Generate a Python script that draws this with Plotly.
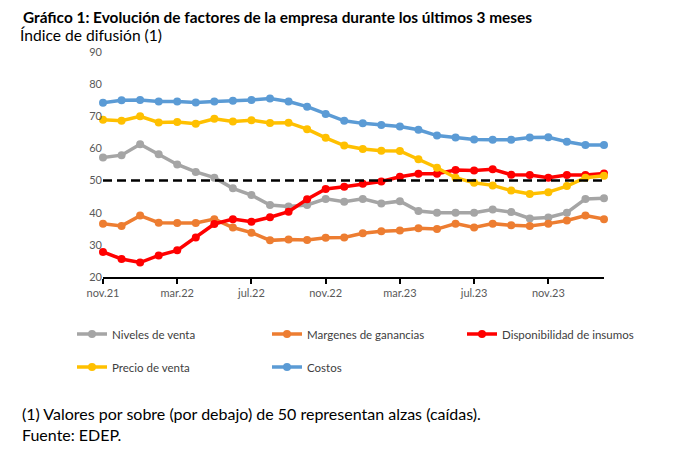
import plotly.graph_objects as go

# meses (nov.21 - feb.24)
meses = ["nov.21", "dic.21", "ene.22", "feb.22", "mar.22", "abr.22", "may.22", "jun.22",
         "jul.22", "ago.22", "sep.22", "oct.22", "nov.22", "dic.22", "ene.23", "feb.23",
         "mar.23", "abr.23", "may.23", "jun.23", "jul.23", "ago.23", "sep.23", "oct.23",
         "nov.23", "dic.23", "ene.24", "feb.24"]

niveles_venta = [57.2, 57.9, 61.3, 58.2, 55.0, 52.7, 50.9, 47.6, 45.5, 42.4, 41.9, 42.4, 44.3, 43.4,
                 44.3, 42.9, 43.6, 40.5, 40.0, 40.0, 40.0, 41.0, 40.2, 38.2, 38.5, 40.0, 44.3, 44.5]
margenes = [36.6, 35.9, 39.1, 36.9, 36.8, 36.8, 38.0, 35.4, 33.8, 31.4, 31.7, 31.5, 32.2, 32.3,
            33.6, 34.2, 34.5, 35.2, 34.9, 36.6, 35.4, 36.6, 36.1, 35.9, 36.6, 37.6, 39.1, 38.0]
insumos = [27.8, 25.6, 24.5, 26.7, 28.3, 32.3, 36.5, 38.0, 37.2, 38.6, 40.3, 44.2, 47.4, 48.1,
           49.0, 49.7, 51.2, 52.1, 52.1, 53.3, 53.1, 53.5, 51.8, 51.7, 50.9, 51.7, 51.7, 52.2]
precio_venta = [68.9, 68.6, 70.0, 68.1, 68.2, 67.7, 69.2, 68.4, 68.8, 67.9, 68.0, 66.0, 63.3, 60.9,
                59.8, 59.3, 59.2, 56.6, 54.0, 50.9, 49.3, 48.5, 46.9, 45.8, 46.4, 48.3, 50.9, 51.5]
costos = [74.2, 75.0, 75.1, 74.6, 74.6, 74.3, 74.6, 74.8, 75.1, 75.5, 74.6, 73.0, 70.7, 68.6,
          67.8, 67.3, 66.8, 65.8, 64.0, 63.4, 62.8, 62.7, 62.7, 63.4, 63.5, 62.1, 61.1, 61.1]
umbral = [50] * len(meses)

FONT = "Lato"
W, H = 675, 454
OFF = 8  # margen del body de la pagina html
# bordes del area de grafico en pixeles de pantalla
X0, X1, Y0, Y1 = 103, 604, 52, 277
L, R, T, B = X0 - OFF, W - (X1 - OFF), Y0 - OFF, H - (Y1 - OFF)
PW, PH = X1 - X0, Y1 - Y0


def px(x):
    return (x - X0) / PW


def py(y):
    return (Y1 - y) / PH


series = [
    ("Niveles de venta", niveles_venta, "#A5A5A5", "legend"),
    ("Margenes de ganancias", margenes, "#ED7D31", "legend"),
    ("Disponibilidad de insumos", insumos, "#FF0000", "legend"),
    ("Precio de venta", precio_venta, "#FFC000", "legend2"),
    ("Costos", costos, "#5B9BD5", "legend2"),
]

fig = go.Figure()
for name, vals, color, leg in series:
    fig.add_trace(go.Scatter(
        x=meses, y=vals, name=name, mode="lines+markers",
        line=dict(color=color, width=3.5),
        marker=dict(color=color, size=8),
        legend=leg, cliponaxis=False,
    ))

# linea de referencia en 50
fig.add_trace(go.Scatter(
    x=meses, y=umbral, mode="lines", showlegend=False, hoverinfo="skip",
    line=dict(color="black", width=2.5, dash="9px,5px"),
))

leg_style = dict(orientation="h", xanchor="left", yanchor="middle",
                 entrywidth=150, itemwidth=30, font=dict(size=11.5, color="#404040"))

fig.update_layout(
    width=W, height=H,
    margin=dict(l=L, r=R, t=T, b=B, autoexpand=False),
    paper_bgcolor="white", plot_bgcolor="white",
    font=dict(family=FONT, color="#404040"),
    legend=dict(x=px(72), y=py(334), **leg_style),
    legend2=dict(x=px(72), y=py(367), **leg_style),
    annotations=[
        dict(text="<b>Gráfico 1: Evolución de factores de la empresa durante los últimos 3 meses</b>",
             x=px(21), y=py(17), xref="paper", yref="paper", xanchor="left", yanchor="middle",
             showarrow=False, font=dict(size=15.4, color="black")),
        dict(text="Índice de difusión (1)",
             x=px(18), y=py(35), xref="paper", yref="paper", xanchor="left", yanchor="middle",
             showarrow=False, font=dict(size=15.6, color="black")),
        dict(text="(1) Valores por sobre (por debajo) de 50 representan alzas (caídas).",
             x=px(20), y=py(413), xref="paper", yref="paper", xanchor="left", yanchor="middle",
             showarrow=False, font=dict(size=16, color="black")),
        dict(text="Fuente: EDEP.",
             x=px(20), y=py(434), xref="paper", yref="paper", xanchor="left", yanchor="middle",
             showarrow=False, font=dict(size=16, color="black")),
    ],
)

fig.update_xaxes(
    type="category", range=[0, len(meses) - 1],
    tickvals=meses[::4], ticktext=meses[::4],
    showline=True, linecolor="black", linewidth=2,
    ticks="outside", ticklen=5, tickwidth=2, tickcolor="black",
    showgrid=False, zeroline=False,
    tickfont=dict(size=11, color="#595959"),
)
fig.update_yaxes(
    range=[20, 90], tickvals=list(range(20, 91, 10)),
    showline=False, showgrid=False, zeroline=False, ticks="",
    tickfont=dict(size=11, color="#595959"),
)

fig.write_html("out.html")
